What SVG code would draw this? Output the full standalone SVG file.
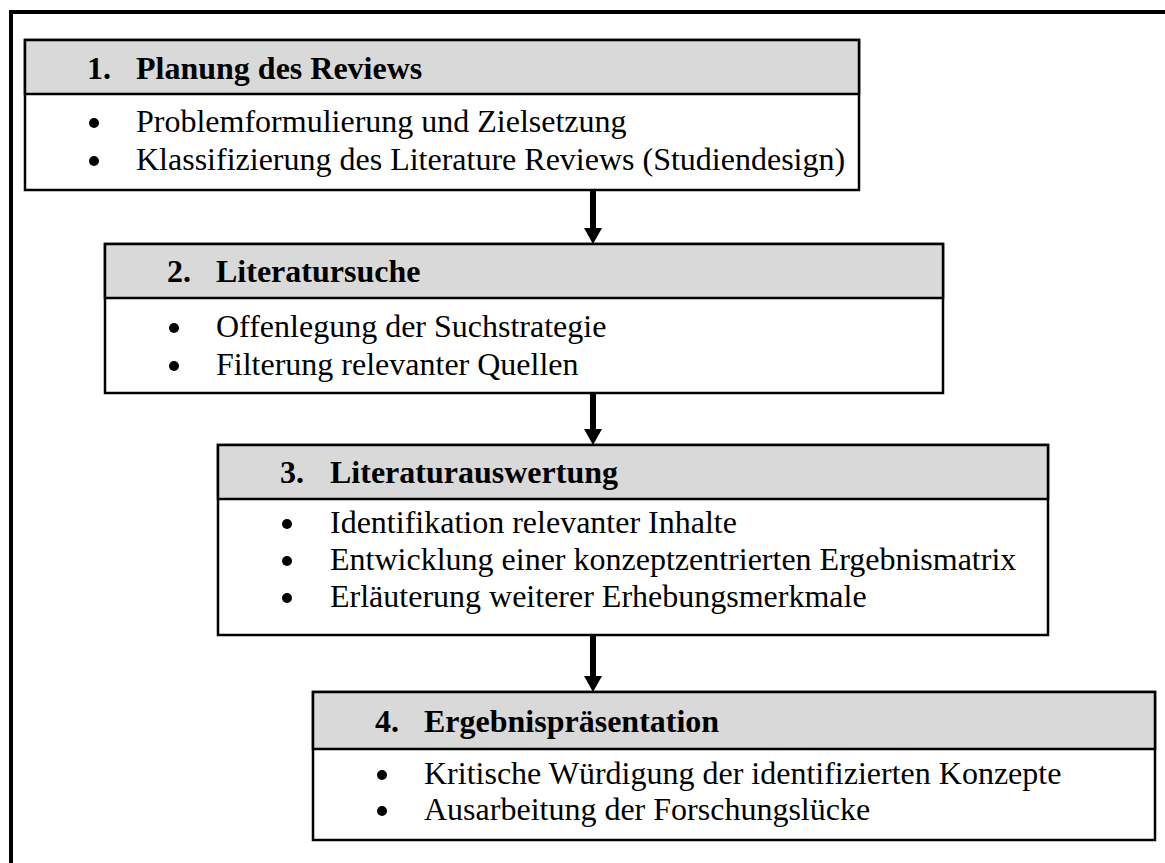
<svg xmlns="http://www.w3.org/2000/svg" width="1165" height="863" viewBox="0 0 1165 863">
<style>
.box{fill:#fff;stroke:#000;stroke-width:2.5}
.hdr{fill:#d9d9d9;stroke:#000;stroke-width:2.5}
.h{font-family:"Liberation Serif","Times New Roman",serif;font-size:32px;font-weight:bold;fill:#000}
.t{font-family:"Liberation Serif","Times New Roman",serif;font-size:32px;fill:#000}
.shaft{stroke:#000;stroke-width:6}
</style>
<rect x="0" y="0" width="1165" height="863" fill="#fff"/>
<g id="frame">
<line x1="9" y1="12" x2="1165" y2="12" stroke="#000" stroke-width="4"/>
<line x1="11" y1="10" x2="11" y2="863" stroke="#000" stroke-width="4"/>
</g>
<g id="node1">
<rect class="box" x="25" y="40" width="834" height="150"/>
<rect class="hdr" x="25" y="40" width="834" height="54"/>
<text class="h" x="87" y="79">1.</text>
<text class="h" x="136" y="79">Planung des Reviews</text>
<circle cx="94" cy="123" r="5"/>
<text class="t" x="136" y="132">Problemformulierung und Zielsetzung</text>
<circle cx="94" cy="161" r="5"/>
<text class="t" x="136" y="170">Klassifizierung des Literature Reviews (Studiendesign)</text>
</g>
<g id="node2">
<rect class="box" x="105" y="244" width="838" height="149"/>
<rect class="hdr" x="105" y="244" width="838" height="54"/>
<text class="h" x="167" y="282">2.</text>
<text class="h" x="216" y="282">Literatursuche</text>
<circle cx="174" cy="328" r="5"/>
<text class="t" x="216" y="337">Offenlegung der Suchstrategie</text>
<circle cx="174" cy="366" r="5"/>
<text class="t" x="216" y="375">Filterung relevanter Quellen</text>
</g>
<g id="node3">
<rect class="box" x="218" y="445" width="830" height="190"/>
<rect class="hdr" x="218" y="445" width="830" height="54"/>
<text class="h" x="280" y="483">3.</text>
<text class="h" x="330" y="483">Literaturauswertung</text>
<circle cx="287" cy="524" r="5"/>
<text class="t" x="330" y="533">Identifikation relevanter Inhalte</text>
<circle cx="287" cy="561" r="5"/>
<text class="t" x="330" y="570">Entwicklung einer konzeptzentrierten Ergebnismatrix</text>
<circle cx="287" cy="598" r="5"/>
<text class="t" x="330" y="607">Erläuterung weiterer Erhebungsmerkmale</text>
</g>
<g id="node4">
<rect class="box" x="313" y="692" width="842" height="148"/>
<rect class="hdr" x="313" y="692" width="842" height="57"/>
<text class="h" x="375" y="732">4.</text>
<text class="h" x="424" y="732">Ergebnispräsentation</text>
<circle cx="382" cy="775" r="5"/>
<text class="t" x="424" y="784">Kritische Würdigung der identifizierten Konzepte</text>
<circle cx="382" cy="811" r="5"/>
<text class="t" x="424" y="820">Ausarbeitung der Forschungslücke</text>
</g>
<g id="connectors">
<line class="shaft" x1="593" y1="191" x2="593" y2="230"/>
<polygon points="584,228 602,228 593,244"/>
<line class="shaft" x1="593" y1="394" x2="593" y2="431"/>
<polygon points="584,429 602,429 593,445"/>
<line class="shaft" x1="593" y1="636" x2="593" y2="678"/>
<polygon points="584,676 602,676 593,692"/>
</g>
</svg>
